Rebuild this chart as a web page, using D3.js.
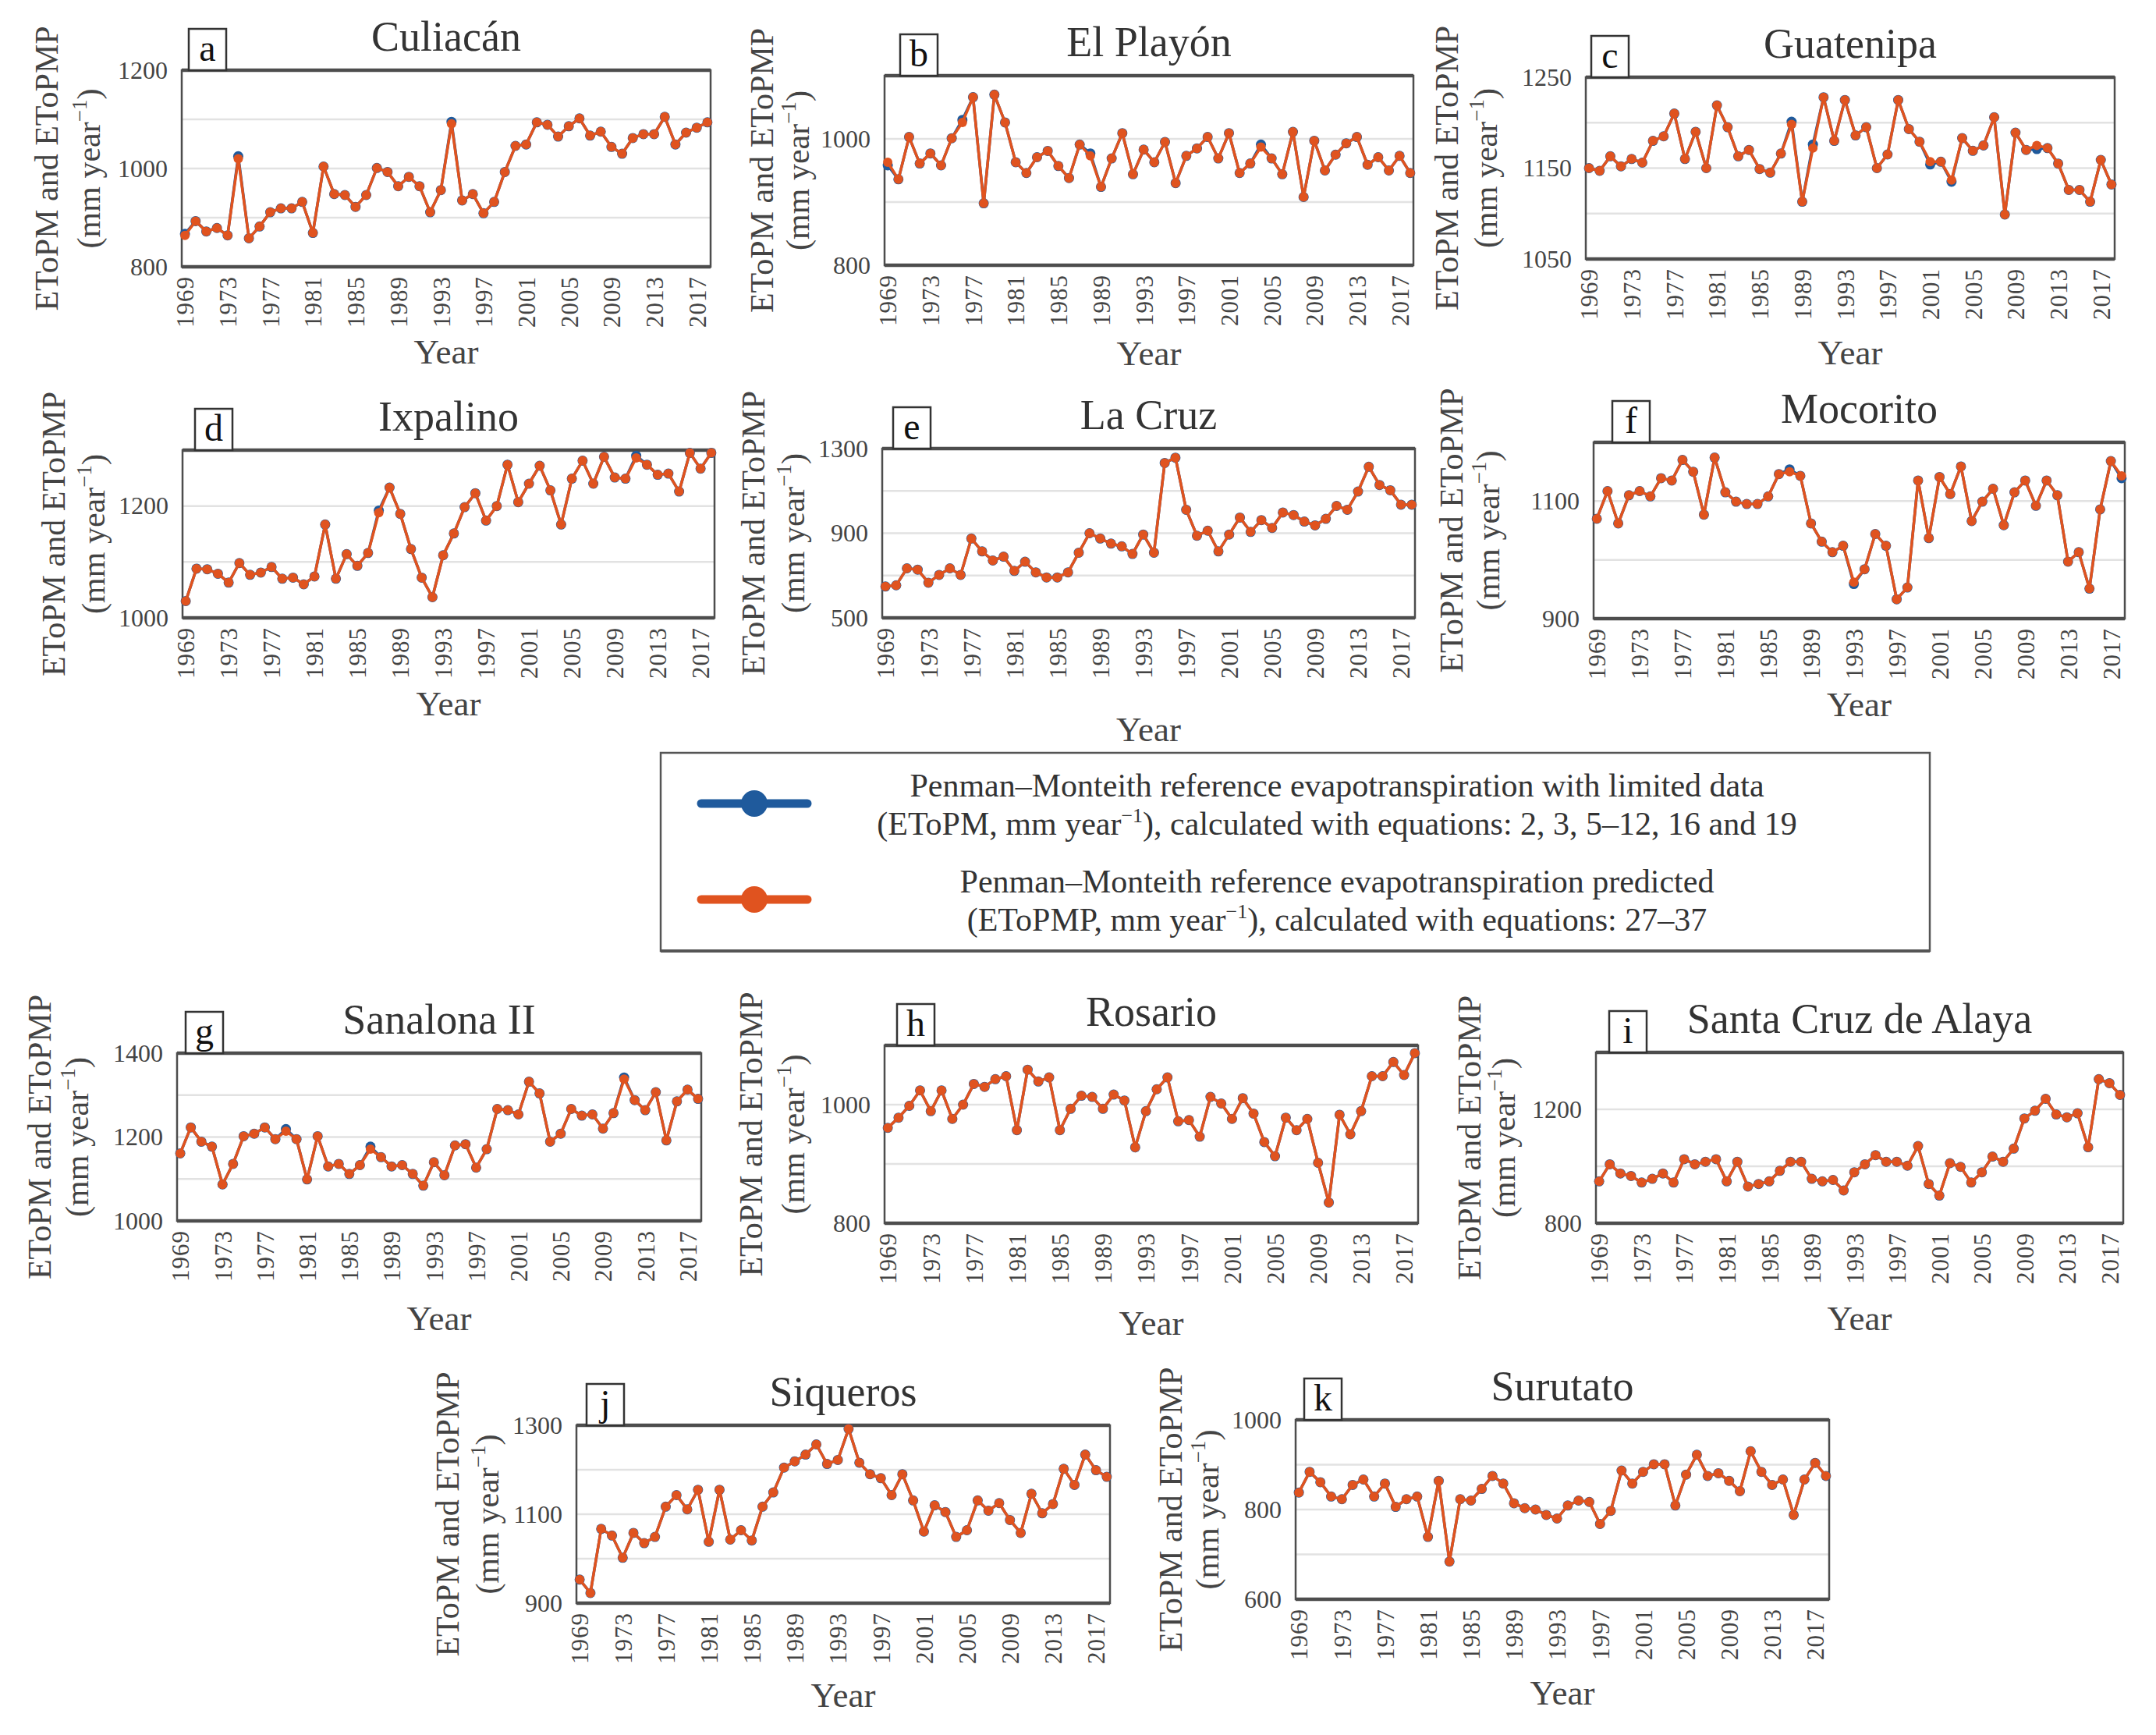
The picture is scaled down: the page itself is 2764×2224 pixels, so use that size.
<!DOCTYPE html>
<html>
<head>
<meta charset="utf-8">
<script src="https://cdn.jsdelivr.net/npm/d3@7"></script>
<style>
  body { margin: 0; background: #fff; }
  text { font-family: "Liberation Serif", "DejaVu Serif", serif; }
</style>
</head>
<body>
<div id="chart"></div>
<script>
// ---- data ----
var years = [1969,1970,1971,1972,1973,1974,1975,1976,1977,1978,1979,1980,1981,1982,1983,1984,1985,1986,1987,1988,
  1989,1990,1991,1992,1993,1994,1995,1996,1997,1998,1999,2000,2001,2002,2003,2004,2005,2006,2007,2008,
  2009,2010,2011,2012,2013,2014,2015,2016,2017,2018];
var yearTicks = [1969,1973,1977,1981,1985,1989,1993,1997,2001,2005,2009,2013,2017];

var stations = ["Culiacán","El Playón","Guatenipa","Ixpalino","La Cruz","Mocorito",
  "Sanalona II","Rosario","Santa Cruz de Alaya","Siqueros","Surutato"];
var letters = ["a","b","c","d","e","f","g","h","i","j","k"];

// EToPMP (orange, predicted), mm/year
var etopmp_a = [864,893,872,879,864,1020,858,882,911,919,919,932,869,1004,948,946,922,946,1001,993,964,983,964,911,956,1091,935,948,909,932,993,1046,1049,1094,1089,1065,1086,1102,1067,1075,1044,1030,1062,1070,1070,1105,1049,1073,1083,1094];
var etopmp_b = [963,936,1003,961,977,958,1001,1026,1066,898,1070,1026,963,946,971,981,957,938,991,973,924,969,1009,944,983,963,995,930,973,985,1003,969,1009,946,961,987,969,944,1011,908,997,950,975,993,1003,959,971,950,973,946];
var etopmp_c = [1150,1147,1163,1152,1160,1156,1180,1185,1210,1160,1190,1150,1219,1195,1163,1170,1149,1145,1166,1198,1113,1172,1228,1180,1225,1186,1195,1150,1165,1225,1193,1179,1157,1157,1137,1183,1169,1175,1206,1099,1189,1170,1175,1172,1155,1126,1126,1113,1159,1132];
var etopmp_d = [1030,1088,1087,1079,1063,1098,1077,1081,1091,1070,1072,1060,1074,1167,1070,1114,1093,1116,1188,1233,1186,1123,1072,1037,1112,1151,1198,1223,1174,1200,1274,1207,1240,1272,1228,1167,1249,1281,1240,1288,1251,1249,1286,1274,1256,1258,1226,1295,1267,1295];
var etopmp_e = [648,654,734,728,666,703,734,703,875,814,771,789,722,765,715,691,691,715,808,900,875,851,838,802,894,808,1232,1257,1011,888,912,814,894,974,906,962,925,998,986,955,937,968,1029,1011,1097,1214,1128,1103,1035,1035];
var etopmp_f = [1070,1117,1062,1110,1117,1108,1139,1135,1170,1150,1077,1174,1115,1099,1095,1095,1108,1146,1150,1143,1062,1031,1013,1024,962,984,1044,1024,933,953,1135,1037,1141,1112,1159,1066,1099,1121,1059,1115,1135,1092,1135,1110,997,1013,951,1086,1168,1143];
var etopmp_g = [1161,1223,1189,1177,1087,1136,1202,1208,1223,1195,1214,1195,1099,1202,1130,1136,1112,1133,1171,1152,1130,1133,1112,1084,1140,1109,1180,1183,1127,1171,1267,1264,1254,1332,1304,1189,1208,1267,1251,1254,1220,1257,1338,1288,1264,1307,1192,1285,1313,1291];
var etopmp_h = [961,978,998,1024,989,1024,976,1000,1035,1030,1043,1048,957,1059,1039,1046,957,993,1015,1013,993,1017,1007,928,989,1026,1046,972,974,946,1013,1002,976,1011,985,937,913,978,957,976,902,835,983,950,989,1048,1048,1072,1050,1087];
var etopmp_i = [947,1007,975,966,943,956,975,943,1025,1007,1016,1025,947,1016,929,938,947,984,1016,1016,956,947,952,915,979,1007,1039,1016,1016,1002,1071,938,897,1011,998,943,979,1034,1016,1062,1168,1195,1237,1182,1172,1186,1067,1306,1292,1251];
var etopmp_j = [953,923,1067,1052,1002,1058,1035,1049,1117,1143,1111,1155,1038,1155,1043,1064,1041,1117,1149,1205,1219,1234,1257,1213,1222,1292,1216,1190,1181,1143,1190,1131,1061,1120,1105,1049,1064,1131,1108,1125,1087,1058,1146,1102,1123,1202,1166,1234,1199,1184];
var etopmp_k = [838,884,861,829,823,855,867,829,858,806,823,829,739,864,684,823,820,846,875,858,814,803,800,788,780,809,820,817,768,797,887,858,884,901,901,809,878,922,875,881,864,841,930,884,855,867,788,867,904,875];

// EToPM (blue) lies under the orange series; these are the years where it peeks out
var etopm_a = {1969: 867, 1974: 1025, 1994: 1095};
var etopm_b = {1969: 958, 1976: 1030, 1988: 977, 2004: 991};
var etopm_c = {1988: 1201, 1990: 1176, 2001: 1154, 2003: 1135, 2011: 1171};
var etopm_d = {1987: 1192, 2011: 1290};
var etopm_e = {};
var etopm_f = {1987: 1154, 1993: 959, 2018: 1139};
var etopm_g = {1979: 1219, 1987: 1177, 2011: 1342};
var etopm_h = {};
var etopm_i = {};
var etopm_j = {};
var etopm_k = {};

var etopmpAll = [etopmp_a,etopmp_b,etopmp_c,etopmp_d,etopmp_e,etopmp_f,etopmp_g,etopmp_h,etopmp_i,etopmp_j,etopmp_k];
var etopmAll = [etopm_a,etopm_b,etopm_c,etopm_d,etopm_e,etopm_f,etopm_g,etopm_h,etopm_i,etopm_j,etopm_k];

var yDomains = [[800,1200],[800,1100],[1050,1250],[1000,1300],[500,1300],[900,1200],
  [1000,1400],[800,1100],[800,1400],[900,1300],[600,1000]];
var yTickLabels = [[800,1000,1200],[800,1000],[1050,1150,1250],[1000,1200],[500,900,1300],[900,1100],
  [1000,1200,1400],[800,1000],[800,1200],[900,1100,1300],[600,800,1000]];
var yGrid = [[900,1000,1100],[900,1000],[1100,1150,1200],[1100,1200],[700,900,1100],[1000,1100],
  [1100,1200,1300],[900,1000],[1000,1200],[1000,1100,1200],[700,800,900]];

var legendLines = [
  ["Penman\u2013Monteith reference evapotranspiration with limited data",
   "(EToPM, mm year", ")", ", calculated with equations: 2, 3, 5\u201312, 16 and 19"],
  ["Penman\u2013Monteith reference evapotranspiration predicted",
   "(EToPMP, mm year", ")", ", calculated with equations: 27\u201337"]
];

// ---- layout ----
var W = 2764, H = 2224;
var blue = "#1f5a9c", orange = "#e0531f";
// plot boxes, letter box offset, "Year" baseline offset, y-title line centres
var layout = [
  {x: 233,  y: 90,   w: 678, h: 252, box: 9,  yearDy: 124, lab: [-173, -119]},
  {x: 1134, y: 97,   w: 678, h: 243, box: 20, yearDy: 128, lab: [-157, -111]},
  {x: 2033, y: 99,   w: 678, h: 233, box: 7,  yearDy: 135, lab: [-178, -128]},
  {x: 234,  y: 577,  w: 682, h: 215, box: 16, yearDy: 125, lab: [-165, -114]},
  {x: 1131, y: 575,  w: 683, h: 217, box: 14, yearDy: 158, lab: [-165, -114]},
  {x: 2043, y: 567,  w: 681, h: 226, box: 24, yearDy: 125, lab: [-182, -135]},
  {x: 227,  y: 1350, w: 672, h: 215, box: 11, yearDy: 140, lab: [-176, -128]},
  {x: 1134, y: 1340, w: 684, h: 228, box: 16, yearDy: 143, lab: [-171, -117]},
  {x: 2046, y: 1349, w: 676, h: 219, box: 17, yearDy: 137, lab: [-162, -118]},
  {x: 739,  y: 1827, w: 684, h: 228, box: 13, yearDy: 133, lab: [-165, -114]},
  {x: 1661, y: 1820, w: 684, h: 230, box: 11, yearDy: 135, lab: [-160, -113]}
];

var serif = "'Liberation Serif', 'DejaVu Serif', serif";

var svg = d3.select("#chart").append("svg")
  .attr("width", W)
  .attr("height", H)
  .style("background", "#fff");

layout.forEach(function(p, k) {
  var g = svg.append("g").attr("transform", `translate(${p.x}, ${p.y})`);

  var x = d3.scalePoint().domain(years).range([0, p.w]).padding(0.3);
  var y = d3.scaleLinear().domain(yDomains[k]).range([p.h, 0]);

  // gridlines
  g.selectAll(".grid").data(yGrid[k]).enter().append("line")
    .attr("x1", 0).attr("x2", p.w)
    .attr("y1", d => y(d)).attr("y2", d => y(d))
    .attr("stroke", "#e2e2e2").attr("stroke-width", 2.5);

  // y axis labels
  var yAxis = d3.axisLeft(y).tickValues(yTickLabels[k]).tickFormat(d3.format("d"))
    .tickSize(0).tickPadding(18);
  var ya = g.append("g").call(yAxis).attr("font-family", serif);
  ya.select(".domain").remove();
  ya.selectAll("text").attr("font-size", 32).attr("fill", "#444");

  // x axis labels, rotated
  var xAxis = d3.axisBottom(x).tickValues(yearTicks).tickSize(0);
  var xa = g.append("g").attr("transform", `translate(0, ${p.h})`).call(xAxis)
    .attr("font-family", serif);
  xa.select(".domain").remove();
  xa.selectAll("text")
    .attr("transform", "rotate(-90)")
    .attr("text-anchor", "end")
    .attr("x", -12).attr("y", 0).attr("dy", "0.35em")
    .attr("font-size", 31).attr("fill", "#444")
    .style("letter-spacing", "1px");

  // plot frame
  g.append("rect").attr("width", p.w).attr("height", p.h)
    .attr("fill", "none").attr("stroke", "#4d4d4d").attr("stroke-width", 2.5);
  g.append("line").attr("x1", 0).attr("x2", p.w).attr("y1", 0).attr("y2", 0)
    .attr("stroke", "#4d4d4d").attr("stroke-width", 4.5);
  g.append("line").attr("x1", 0).attr("x2", p.w).attr("y1", p.h).attr("y2", p.h)
    .attr("stroke", "#4d4d4d").attr("stroke-width", 4.5);

  var pred = etopmpAll[k];
  var over = etopmAll[k];
  var ptsP = years.map((yr, i) => ({year: yr, v: pred[i]}));
  var ptsM = years.map((yr, i) => ({year: yr, v: over[yr] !== undefined ? over[yr] : pred[i]}));

  var line = d3.line().x(d => x(d.year)).y(d => y(d.v));

  // EToPM first, EToPMP drawn on top
  g.append("path").datum(ptsM).attr("d", line)
    .attr("fill", "none").attr("stroke", blue).attr("stroke-width", 3.5);
  g.selectAll(".ptm").data(ptsM).enter().append("circle")
    .attr("cx", d => x(d.year)).attr("cy", d => y(d.v)).attr("r", 6.5)
    .attr("fill", blue);

  g.append("path").datum(ptsP).attr("d", line)
    .attr("fill", "none").attr("stroke", orange).attr("stroke-width", 3.5);
  g.selectAll(".ptp").data(ptsP).enter().append("circle")
    .attr("cx", d => x(d.year)).attr("cy", d => y(d.v)).attr("r", 6)
    .attr("fill", orange);

  // panel letter box
  g.append("rect").attr("x", p.box).attr("y", -53).attr("width", 48).attr("height", 53)
    .attr("fill", "#fff").attr("stroke", "#333").attr("stroke-width", 2.5);
  g.append("text").attr("x", p.box + 24).attr("y", -12)
    .attr("text-anchor", "middle").attr("font-size", 48).attr("fill", "#111")
    .text(letters[k]);

  // station title
  g.append("text").attr("x", p.w / 2).attr("y", -25)
    .attr("text-anchor", "middle").attr("font-size", 54).attr("fill", "#333")
    .text(stations[k]);

  // y axis title (two lines)
  var yt = g.append("text")
    .attr("transform", `translate(${p.lab[0] + 14}, ${p.h / 2}) rotate(-90)`)
    .attr("text-anchor", "middle").attr("font-size", 42).attr("fill", "#444");
  yt.text("EToPM and EToPMP");
  var yt2 = g.append("text")
    .attr("transform", `translate(${p.lab[1] + 14}, ${p.h / 2}) rotate(-90)`)
    .attr("text-anchor", "middle").attr("font-size", 42).attr("fill", "#444");
  yt2.append("tspan").text("(mm year");
  yt2.append("tspan").attr("font-size", 27).attr("dy", -17).text("\u22121");
  yt2.append("tspan").attr("dy", 17).text(")");

  // x axis title
  g.append("text").attr("x", p.w / 2).attr("y", p.h + p.yearDy)
    .attr("text-anchor", "middle").attr("font-size", 45).attr("fill", "#444")
    .text("Year");
});

// ---- legend ----
var lg = svg.append("g").attr("transform", "translate(847, 965)");
lg.append("rect").attr("width", 1627).attr("height", 254)
  .attr("fill", "#fff").attr("stroke", "#555").attr("stroke-width", 2.5);
lg.append("line").attr("x1", 0).attr("x2", 1627).attr("y1", 254).attr("y2", 254)
  .attr("stroke", "#555").attr("stroke-width", 4);

var legendColors = [blue, orange];
var legendY = [65, 188];
legendColors.forEach(function(c, i) {
  lg.append("line").attr("x1", 52).attr("x2", 188).attr("y1", legendY[i]).attr("y2", legendY[i])
    .attr("stroke", c).attr("stroke-width", 11).attr("stroke-linecap", "round");
  lg.append("circle").attr("cx", 120).attr("cy", legendY[i]).attr("r", 17).attr("fill", c);

  var t1 = lg.append("text").attr("x", 867).attr("y", legendY[i] - 9)
    .attr("text-anchor", "middle").attr("font-size", 42).attr("fill", "#333")
    .text(legendLines[i][0]);
  var t2 = lg.append("text").attr("x", 867).attr("y", legendY[i] + 40)
    .attr("text-anchor", "middle").attr("font-size", 42).attr("fill", "#333");
  t2.append("tspan").text(legendLines[i][1]);
  t2.append("tspan").attr("font-size", 26).attr("dy", -16).text("\u22121");
  t2.append("tspan").attr("dy", 16).text(legendLines[i][2]);
  t2.append("tspan").text(legendLines[i][3]);
});
</script>
</body>
</html>
